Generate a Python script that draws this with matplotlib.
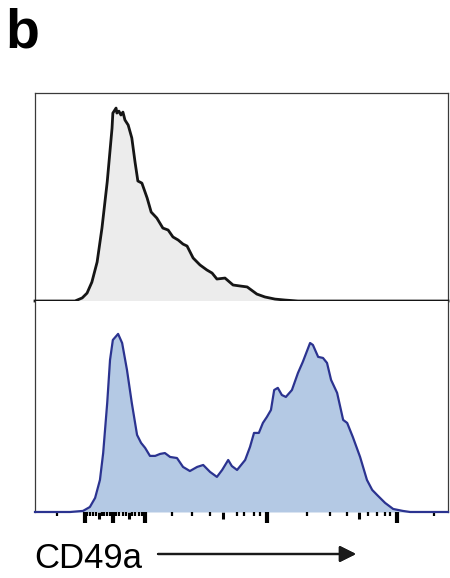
import matplotlib.pyplot as plt

# x in display channels (0-1024 across the biexponential axis), y in % of mode
ctrl_channel = [0, 74, 99, 117, 129, 141, 154, 166, 179, 191, 193, 201, 203, 208, 213,
                218, 223, 231, 240, 248, 255, 265, 278, 288, 302, 317, 330, 342, 355,
                367, 377, 392, 409, 426, 439, 451, 471, 491, 508, 526, 550, 570, 595,
                620, 652, 1024]
ctrl_mode = [0, 0, 0, 1.6, 4.1, 9.8, 20.2, 37.8, 61.7, 89.6, 97.4, 100, 97.4, 98.4, 96.4,
             97.9, 93.8, 91.2, 84.5, 72.0, 62.2, 61.1, 53.4, 46.1, 43.0, 37.8, 36.8, 33.2, 31.6,
             29.5, 28.5, 22.3, 18.7, 16.1, 14.5, 11.4, 11.9, 8.3, 7.8, 7.3, 3.6, 2.1, 1.0,
             0.5, 0, 0]

cd49a_channel = [0, 87, 119, 136, 149, 161, 169, 179, 186, 193, 206, 216, 228, 240, 253,
                 263, 273, 285, 298, 310, 322, 335, 352, 367, 384, 402, 417, 434, 451,
                 464, 479, 488, 501, 521, 533, 543, 555, 565, 575, 585, 593, 602, 612,
                 622, 637, 652, 664, 682, 689, 702, 714, 724, 734, 749, 764, 774, 788,
                 806, 823, 836, 848, 868, 888, 912, 930, 1024]
cd49a_mode = [0, 0, 0.6, 2.8, 7.9, 18.0, 33.1, 61.2, 85.4, 96.6, 100, 94.9, 79.8, 61.2, 43.3,
              38.8, 36.0, 31.5, 31.5, 32.6, 33.1, 30.9, 30.3, 25.3, 23.0, 25.3, 26.4, 22.5, 19.7,
              23.6, 29.2, 25.8, 23.6, 29.2, 36.5, 44.4, 44.4, 50.0, 53.4, 57.3, 68.5, 69.7, 65.7,
              64.6, 68.5, 78.1, 84.3, 94.9, 93.8, 87.1, 86.5, 83.7, 74.2, 66.9, 51.7, 50.0, 42.1,
              30.9, 18.0, 12.4, 9.6, 5.1, 1.7, 0.6, 0, 0]

# tick channels: decades, half-decades, the rest
long_ticks = [123, 193, 273, 574, 897]
mid_ticks = [158, 233, 465, 804]
short_ticks = [54, 130, 137, 144, 151, 165, 172, 179, 186, 201, 209, 217, 225, 241, 249,
               257, 265, 339, 389, 434, 500, 518, 543, 558, 674, 731, 773, 826, 848, 868,
               880, 988]

plt.rcParams['font.family'] = ['Liberation Sans', 'DejaVu Sans']

fig = plt.figure(figsize=(4.5, 5.78), dpi=100)
ax_top = fig.add_axes([0.0778, 0.4792, 0.9178, 0.3599])
ax_bot = fig.add_axes([0.0778, 0.1142, 0.9178, 0.3651])

ax_top.fill_between(ctrl_channel, ctrl_mode, color='#ececec', lw=0)
ax_top.plot(ctrl_channel, ctrl_mode, color='#151515', lw=2.0, clip_on=False,
            solid_joinstyle='round', zorder=5)
ax_top.set_xlim(0, 1024)
ax_top.set_ylim(0, 107.8)
ax_top.set_xticks([])
ax_top.set_yticks([])
ax_top.spines['bottom'].set_visible(False)
for s in ['top', 'left', 'right']:
    ax_top.spines[s].set_color('#3a3a3a')
    ax_top.spines[s].set_linewidth(0.9)

ax_bot.fill_between(cd49a_channel, cd49a_mode, color='#b4c9e4', lw=0)
ax_bot.plot(cd49a_channel, cd49a_mode, color='#2b3390', lw=1.6, clip_on=False,
            solid_joinstyle='round', zorder=5)
ax_bot.set_xlim(0, 1024)
ax_bot.set_ylim(0, 118.5)
ax_bot.set_yticks([])
ax_bot.spines['top'].set_visible(False)
ax_bot.spines['bottom'].set_visible(False)
for s in ['left', 'right']:
    ax_bot.spines[s].set_color('#3a3a3a')
    ax_bot.spines[s].set_linewidth(0.9)

ax_bot.set_xticks(long_ticks)
ax_bot.set_xticks(short_ticks, minor=True)
ax_bot.set_xticklabels([])
ax_bot.tick_params(axis='x', which='major', direction='out', length=8, width=3.0, color='black')
ax_bot.tick_params(axis='x', which='minor', direction='out', length=3, width=1.6, color='black')

sec = ax_bot.secondary_xaxis('bottom')
sec.set_xticks(mid_ticks)
sec.set_xticklabels([])
sec.tick_params(axis='x', direction='out', length=5, width=2.2, color='black')
sec.spines['bottom'].set_visible(False)

fig.text(0.012, 1 - 47 / 578, 'b', fontsize=40, fontweight='bold', va='baseline')
fig.text(0.077, 1 - 568 / 578, 'CD49a', fontsize=25, va='baseline')
fig.add_artist(plt.annotate('', xy=(356 / 450, 1 - 554 / 578), xytext=(158 / 450, 1 - 554 / 578),
                            xycoords='figure fraction',
                            arrowprops=dict(arrowstyle='-|>,head_length=0.7,head_width=0.35',
                                            color='#1a1a1a', lw=1.6, shrinkA=0, shrinkB=0,
                                            mutation_scale=14)))

fig.savefig('out.png', dpi=100)
